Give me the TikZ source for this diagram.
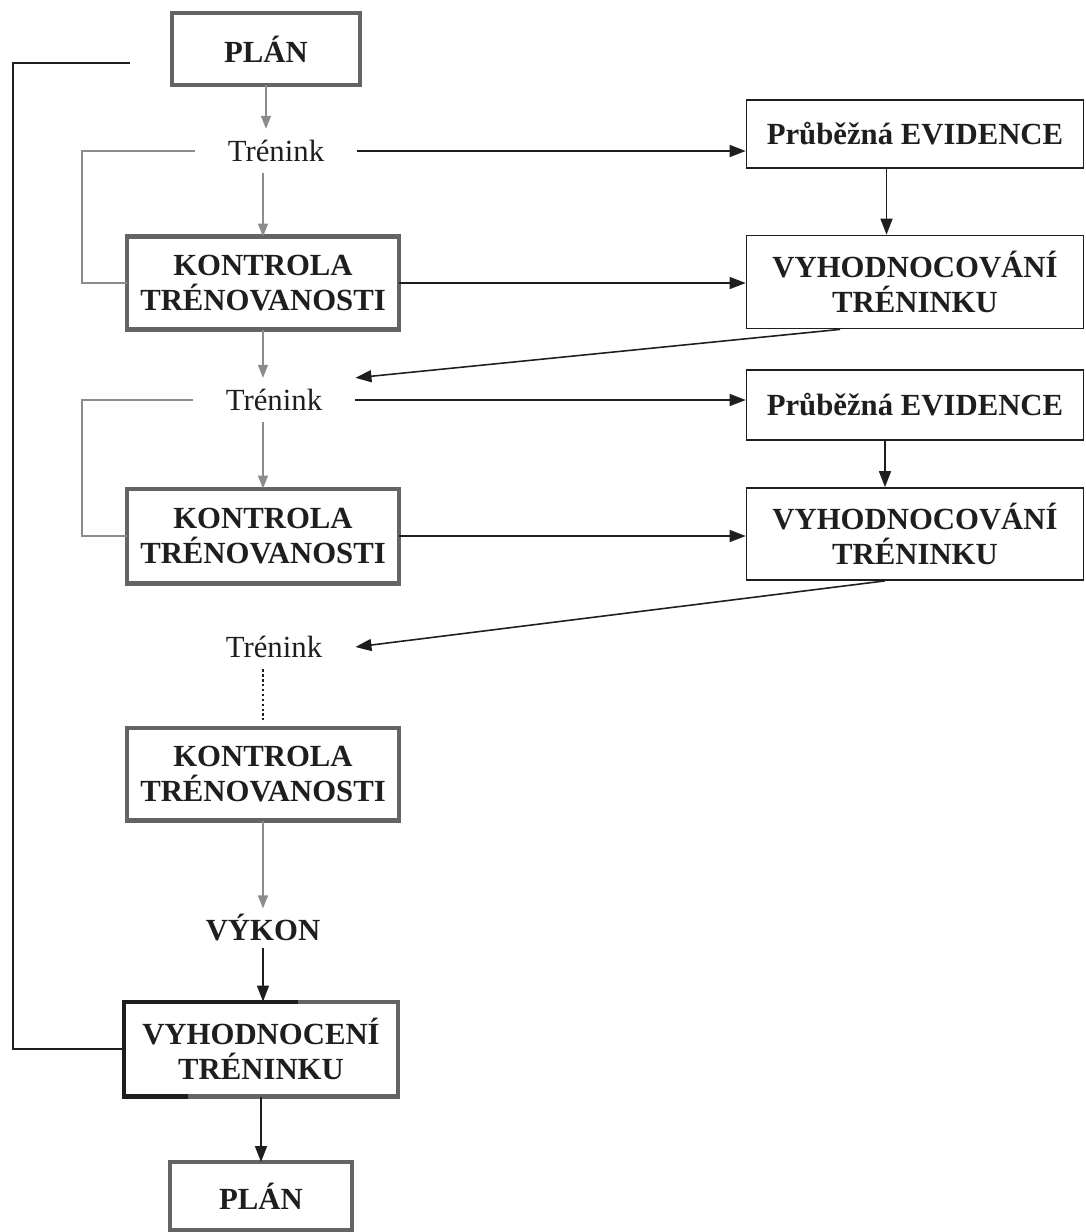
\documentclass[tikz,border=0pt]{standalone}
\usepackage{fontspec}
\setmainfont{Liberation Serif}
\usetikzlibrary{arrows.meta,positioning,calc}
\definecolor{cEdge}{HTML}{646464}
\definecolor{cLine}{HTML}{8C8C8C}
\definecolor{cInk}{HTML}{1E1E1E}
\tikzset{
  gbox/.style  = {draw=cEdge, line width=2.3pt, align=center, inner sep=0pt, outer sep=0pt,
                  font=\bfseries\fontsize{17.5}{19.5}\selectfont, text=cInk},
  bbox/.style  = {draw=cInk, line width=1pt, align=center, inner sep=0pt,
                  font=\bfseries\fontsize{17.5}{19.5}\selectfont, text=cInk,
                  minimum width=6.74cm},
  trn/.style   = {font=\fontsize{17.5}{19.5}\selectfont, text=cInk,
                  inner xsep=0.66cm, inner ysep=0.22cm},
  garr/.style  = {cLine, line width=0.8pt, -{Triangle[length=0.26cm,width=0.2cm]}},
  barr/.style  = {cInk, line width=0.9pt, -{Triangle[length=0.32cm,width=0.24cm]}},
  gline/.style = {cLine, line width=0.8pt},
  fback/.style = {cInk, line width=1.2pt},
}
\begin{document}
\begin{tikzpicture}[x=0.02cm, y=-0.02cm]
  \useasboundingbox (0,0) rectangle (1086,1232);
  % left column
  \node[gbox, minimum width=3.76cm, minimum height=1.44cm] (plan1) at (266,49) {PLÁN};
  \node[trn] (tr1) at (276,151) {Trénink};
  \node[gbox, minimum width=5.46cm, minimum height=1.86cm] (kon1) at (263,283) {KONTROLA\\TRÉNOVANOSTI};
  \node[trn] (tr2) at (274,400) {Trénink};
  \node[gbox, minimum width=5.46cm, minimum height=1.9cm] (kon2) at (263,536) {KONTROLA\\TRÉNOVANOSTI};
  \node[trn] (tr3) at (274,647) {Trénink};
  \node[gbox, minimum width=5.46cm, minimum height=1.86cm] (kon3) at (263,774) {KONTROLA\\TRÉNOVANOSTI};
  \node[font=\bfseries\fontsize{17.5}{19.5}\selectfont, text=cInk] (vykon) at (263,928) {VÝKON};
  \node[gbox, minimum width=5.5cm, minimum height=1.9cm] (vyhod) at (261,1049) {VYHODNOCENÍ\\TRÉNINKU};
  \node[gbox, minimum width=3.64cm, minimum height=1.36cm] (plan2) at (261,1196) {PLÁN};
  \draw[cInk, line width=2.3pt, line cap=rect] ([xshift=1.24cm]vyhod.south west) -- (vyhod.south west)
    -- (vyhod.north west) -- ([xshift=3.44cm]vyhod.north west);
  % right column
  \node[bbox, minimum height=1.36cm] (evi1) at (915,134) {Průběžná EVIDENCE};
  \node[bbox, minimum height=1.86cm] (vyh1) at (915,282) {VYHODNOCOVÁNÍ\\TRÉNINKU};
  \node[bbox, minimum height=1.4cm] (evi2) at (915,405) {Průběžná EVIDENCE};
  \node[bbox, minimum height=1.84cm] (vyh2) at (915,534) {VYHODNOCOVÁNÍ\\TRÉNINKU};
  % helper columns
  \coordinate (brk) at (82,0);
  \coordinate (fbx) at (13,0);
  \coordinate (fbend) at (130,63);
  % main chain
  \draw[garr] (plan1.south) -- (plan1.south |- tr1.north);
  \draw[garr] (tr1.south -| kon1.north) -- (kon1.north);
  \draw[garr] (kon1.south) -- (kon1.south |- tr2.north);
  \draw[garr] (tr2.south -| kon2.north) -- (kon2.north);
  \draw[cInk, line width=1.3pt, dash pattern=on 1.4pt off 1.4pt]
    (tr3.south -| kon3.north) -- ([yshift=0.16cm]kon3.north);
  \draw[garr] (kon3.south) -- (vykon.north);
  \draw[barr] (vykon.south) -- (vykon.south |- vyhod.north);
  \draw[barr] (vyhod.south) -- (plan2.north);
  % brackets and feedback
  \draw[gline] (tr1.west) -- (tr1.west -| brk) |- (kon1.west);
  \draw[gline] (tr2.west) -- (tr2.west -| brk) |- (kon2.west);
  \draw[fback] (fbend) -- (fbend -| fbx) |- (vyhod.west);
  % to the right and back
  \draw[barr] (tr1.east) -- (tr1.east -| evi1.west);
  \draw[barr] (kon1.east) -- (kon1.east -| vyh1.west);
  \draw[barr] ([xshift=-0.57cm]evi1.south) -- ([xshift=-0.57cm]vyh1.north);
  \draw[barr] ([xshift=-1.5cm]vyh1.south) -- (tr2.north east);
  \draw[barr] (tr2.east) -- (tr2.east -| evi2.west);
  \draw[barr] (kon2.east) -- (kon2.east -| vyh2.west);
  \draw[barr] ([xshift=-0.6cm]evi2.south) -- ([xshift=-0.6cm]vyh2.north);
  \draw[barr] ([xshift=-0.6cm]vyh2.south) -- (tr3.east);
\end{tikzpicture}
\end{document}
